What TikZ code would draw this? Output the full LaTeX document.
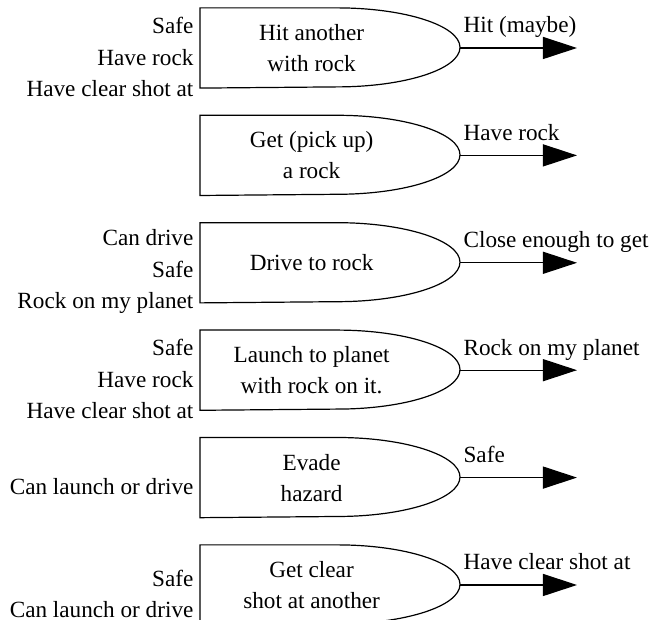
\documentclass[tikz,border=0pt]{standalone}
\usepackage{fontspec}
\setmainfont{Liberation Serif}
\usetikzlibrary{positioning, arrows.meta}

\begin{document}
\begin{tikzpicture}[
    node distance=13.6pt,
    >={Triangle[length=17pt, width=11pt]},
    line width=0.6pt,
    font=\fontsize{11.6pt}{15.5pt}\selectfont,
    % Node Styles
    gate/.style={rectangle, minimum width=111pt, minimum height=39.5pt, inner sep=0pt, align=center},
    inputs/.style={anchor=east, align=right, inner sep=0pt, xshift=-3pt, yshift=-4.5pt, font=\fontsize{11.6pt}{15.8pt}\selectfont},
    output/.style={anchor=base west, inner sep=0pt}
]
\useasboundingbox (0,0) rectangle (325pt,310pt);

% --- 1. Gates (stacked) ---
\node[gate, anchor=west] (hit) at (100pt,286pt) {Hit another\\with rock};
\node[gate, below=of hit] (pickup) {Get (pick up)\\a rock};
\node[gate, below=of pickup] (drive) {Drive to rock};
\node[gate, below=of drive] (launch) {Launch to planet\\with rock on it.};
\node[gate, below=of launch] (evade) {Evade\\hazard};
\node[gate, below=of evade] (shot) {Get clear\\shot at another};

% --- 2. Gate outlines and outputs ---
\foreach \g in {hit, pickup, drive, launch, evade, shot} {
    \draw (\g.south west) -- (\g.north west) -- ++(68.5pt,0)
        arc[start angle=90, end angle=-90, x radius=61.5pt, y radius=19.75pt] -- cycle;
    \coordinate (\g-tip) at ([xshift=130pt]\g.west);
    \coordinate (\g-end) at ([xshift=188.5pt]\g.west);
    \draw[->] (\g-tip) -- (\g-end);
}

% --- 3. Preconditions (left) ---
\node[inputs] (hit-in) at (hit.west) {Safe\\Have rock\\Have clear shot at};
\node[inputs] (drive-in) at (drive.west) {Can drive\\Safe\\Rock on my planet};
\node[inputs] (launch-in) at (launch.west) {Safe\\Have rock\\Have clear shot at};
\node[inputs] (evade-in) at (evade.west) {Can launch or drive};
\node[inputs] (shot-in) at (shot.west) {Safe\\Can launch or drive};

% --- 4. Effects (right) ---
\node[output] (hit-out) at ([shift={(1.5pt,7.5pt)}]hit-tip) {Hit (maybe)};
\node[output] (pickup-out) at ([shift={(1.5pt,7.5pt)}]pickup-tip) {Have rock};
\node[output] (drive-out) at ([shift={(1.5pt,7.5pt)}]drive-tip) {Close enough to get};
\node[output] (launch-out) at ([shift={(1.5pt,7.5pt)}]launch-tip) {Rock on my planet};
\node[output] (evade-out) at ([shift={(1.5pt,7.5pt)}]evade-tip) {Safe};
\node[output] (shot-out) at ([shift={(1.5pt,7.5pt)}]shot-tip) {Have clear shot at};

\end{tikzpicture}
\end{document}
